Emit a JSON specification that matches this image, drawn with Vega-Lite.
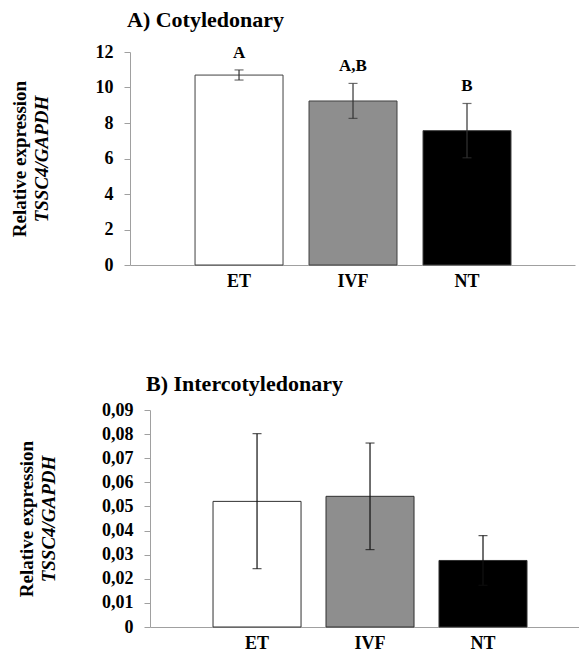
{
  "$schema": "https://vega.github.io/schema/vega-lite/v6.json",
  "background": "white",
  "padding": {"left": 10, "top": 9, "right": 0, "bottom": 0},
  "spacing": 83,
  "config": {
    "view": {"stroke": null},
    "font": "Liberation Serif",
    "axis": {"grid": false, "domainColor": "#a0a0a0", "tickColor": "#a0a0a0", "labelFont": "Liberation Serif", "titleFont": "Liberation Serif", "labelColor": "#000", "titleColor": "#000", "labelFontWeight": "bold", "titleFontWeight": "bold"},
    "title": {"font": "Liberation Serif", "fontWeight": "bold", "fontSize": 22, "color": "#000", "anchor": "start", "frame": "group"}
  },
  "vconcat": [
    {
      "width": 445,
      "height": 213,
      "title": {"text": "A) Cotyledonary", "offset": 11, "dx": -3},
      "data": {"values": [
        {"group": "ET", "mean": 10.7, "lo": 10.42, "hi": 10.99, "letter": "A"},
        {"group": "IVF", "mean": 9.24, "lo": 8.26, "hi": 10.23, "letter": "A,B"},
        {"group": "NT", "mean": 7.57, "lo": 6.04, "hi": 9.1, "letter": "B"}
      ]},
      "layer": [
        {
          "mark": {"type": "bar", "stroke": "#404040", "strokeWidth": 1},
          "encoding": {
            "x": {"field": "group", "type": "nominal", "sort": ["ET", "IVF", "NT"],
              "scale": {"paddingInner": 0.228, "paddingOuter": 0.566, "align": 0.504},
              "axis": {"title": null, "ticks": false, "labelAngle": 0, "labelFontSize": 18, "labelPadding": 7, "labelDx": 3}},
            "y": {"field": "mean", "type": "quantitative", "scale": {"domain": [0, 12]},
              "axis": {"values": [0, 2, 4, 6, 8, 10, 12], "tickSize": 6, "labelPadding": 11, "labelFontSize": 18,
                "title": "TSSC4/GAPDH", "titleFontStyle": "italic", "titleFontSize": 19, "titlePadding": 44}},
            "color": {"field": "group", "type": "nominal", "scale": {"domain": ["ET", "IVF", "NT"], "range": ["#ffffff", "#8e8e8e", "#000000"]}, "legend": null}
          }
        },
        {
          "layer": [
            {
              "mark": {"type": "rule", "color": "#333333", "strokeWidth": 1.2},
              "encoding": {
                "x": {"field": "group", "type": "nominal", "sort": ["ET", "IVF", "NT"]},
                "y": {"field": "lo", "type": "quantitative", "scale": {"domain": [0, 12]},
                  "axis": {"orient": "left", "labels": false, "ticks": false, "domain": false, "title": "Relative expression", "titleFontSize": 19, "titlePadding": 101}},
                "y2": {"field": "hi"}
              }
            },
            {
              "mark": {"type": "tick", "color": "#333333", "size": 9, "thickness": 1.2},
              "encoding": {
                "x": {"field": "group", "type": "nominal", "sort": ["ET", "IVF", "NT"]},
                "y": {"field": "lo", "type": "quantitative"}
              }
            },
            {
              "mark": {"type": "tick", "color": "#333333", "size": 9, "thickness": 1.2},
              "encoding": {
                "x": {"field": "group", "type": "nominal", "sort": ["ET", "IVF", "NT"]},
                "y": {"field": "hi", "type": "quantitative"}
              }
            },
            {
              "mark": {"type": "text", "fontSize": 17, "fontWeight": "bold", "font": "Liberation Serif", "baseline": "alphabetic", "dy": -12, "color": "#000"},
              "encoding": {
                "x": {"field": "group", "type": "nominal", "sort": ["ET", "IVF", "NT"]},
                "y": {"field": "hi", "type": "quantitative"},
                "text": {"field": "letter"}
              }
            }
          ]
        }
      ],
      "resolve": {"scale": {"y": "independent"}}
    },
    {
      "width": 449,
      "height": 217,
      "title": {"text": "B) Intercotyledonary", "offset": 5, "dx": 16},
      "data": {"values": [
        {"group": "ET", "mean": 0.0521, "lo": 0.0242, "hi": 0.0802},
        {"group": "IVF", "mean": 0.0542, "lo": 0.0321, "hi": 0.0763},
        {"group": "NT", "mean": 0.0276, "lo": 0.0173, "hi": 0.0379}
      ]},
      "layer": [
        {
          "mark": {"type": "bar", "stroke": "#303030", "strokeWidth": 1},
          "encoding": {
            "x": {"field": "group", "type": "nominal", "sort": ["ET", "IVF", "NT"],
              "scale": {"range": [20, 449], "paddingInner": 0.221, "paddingOuter": 0.509, "align": 0.548},
              "axis": {"title": null, "ticks": false, "labelAngle": 0, "labelFontSize": 18, "labelPadding": 7, "labelDx": 2}},
            "y": {"field": "mean", "type": "quantitative", "scale": {"domain": [0, 0.09]},
              "axis": {"offset": -20, "values": [0, 0.01, 0.02, 0.03, 0.04, 0.05, 0.06, 0.07, 0.08, 0.09],
                "labelExpr": "datum.value == 0 ? '0' : replace(format(datum.value, '.2f'), '.', ',')",
                "tickSize": 6, "labelPadding": 11, "labelFontSize": 18,
                "title": "TSSC4/GAPDH", "titleFontStyle": "italic", "titleFontSize": 19, "titlePadding": 43}},
            "color": {"field": "group", "type": "nominal", "scale": {"domain": ["ET", "IVF", "NT"], "range": ["#ffffff", "#8e8e8e", "#000000"]}, "legend": null}
          }
        },
        {
          "layer": [
            {
              "mark": {"type": "rule", "color": "#111111", "strokeWidth": 1.2},
              "encoding": {
                "x": {"field": "group", "type": "nominal", "sort": ["ET", "IVF", "NT"]},
                "y": {"field": "lo", "type": "quantitative", "scale": {"domain": [0, 0.09]},
                  "axis": {"orient": "left", "offset": -20, "labels": false, "ticks": false, "domain": false, "title": "Relative expression", "titleFontSize": 19, "titlePadding": 114}},
                "y2": {"field": "hi"}
              }
            },
            {
              "mark": {"type": "tick", "color": "#111111", "size": 9, "thickness": 1.2},
              "encoding": {
                "x": {"field": "group", "type": "nominal", "sort": ["ET", "IVF", "NT"]},
                "y": {"field": "lo", "type": "quantitative"}
              }
            },
            {
              "mark": {"type": "tick", "color": "#111111", "size": 9, "thickness": 1.2},
              "encoding": {
                "x": {"field": "group", "type": "nominal", "sort": ["ET", "IVF", "NT"]},
                "y": {"field": "hi", "type": "quantitative"}
              }
            }
          ]
        }
      ],
      "resolve": {"scale": {"y": "independent"}}
    }
  ]
}
